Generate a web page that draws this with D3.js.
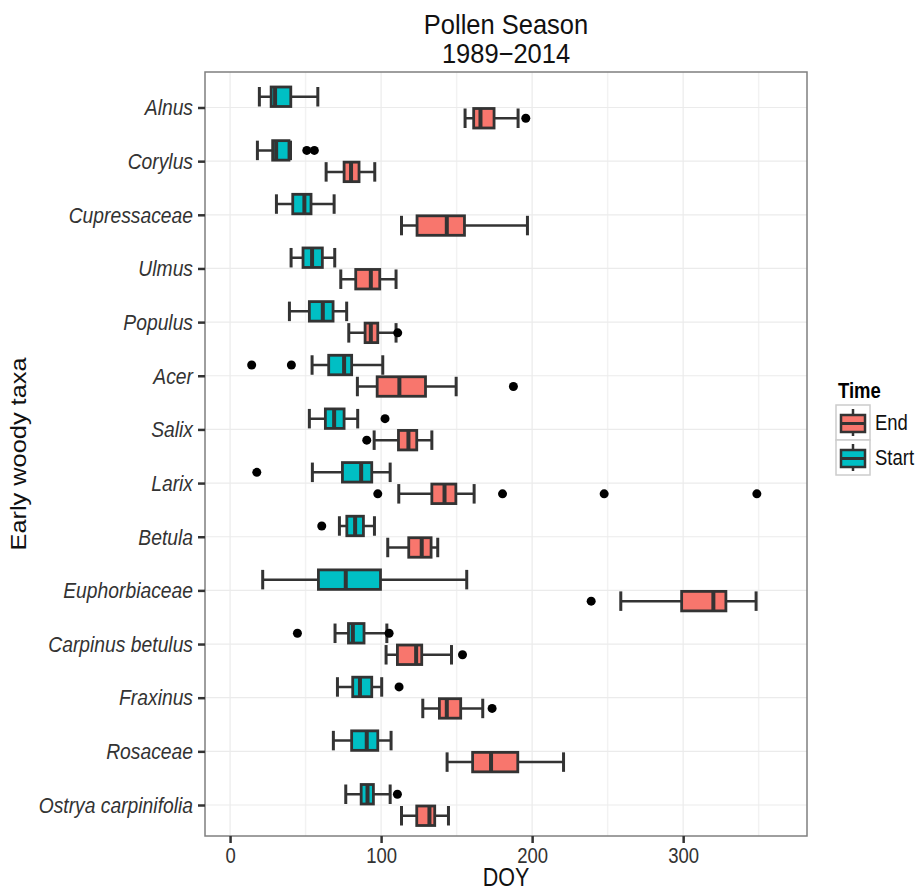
<!DOCTYPE html>
<html>
<head>
<meta charset="utf-8">
<script src="https://cdn.jsdelivr.net/npm/d3@7"></script>
<style>
  body { margin: 0; background: #fff; }
  svg { font-family: 'Liberation Sans', Arial, sans-serif; }
</style>
</head>
<body>
<div id="chart"></div>
<script>
const taxa = ['Alnus', 'Corylus', 'Cupressaceae', 'Ulmus', 'Populus', 'Acer', 'Salix', 'Larix',
  'Betula', 'Euphorbiaceae', 'Carpinus betulus', 'Fraxinus', 'Rosaceae', 'Ostrya carpinifolia']
const series = ['End', 'Start']
const seriesColor = ['#F8766D', '#00BFC4']
const xTicks = [0, 100, 200, 300]
const xMinorTicks = [50, 150, 250, 350]

// Start of season (DOY): lower whisker, Q1, median, Q3, upper whisker
const startLow = [19.4, 18.1, 30.7, 40.4, 39.3, 54.3, 52.5, 54.5, 72.4, 21.6, 69.5, 71.1, 68.4, 76.6]
const startQ1 = [27.2, 28.2, 41.5, 48.3, 52.5, 65.3, 63.1, 74.4, 77.3, 58.5, 78.4, 81.2, 80.5, 86.8]
const startMed = [29.8, 30.5, 49.2, 54.3, 61.4, 75.5, 68.9, 86.8, 82.8, 76.6, 81.3, 86.0, 90.5, 91.0]
const startQ3 = [40.2, 39.0, 53.6, 61.1, 68.2, 80.5, 75.5, 93.8, 88.3, 99.6, 88.7, 93.8, 97.8, 94.9]
const startHigh = [58.1, 40.0, 68.9, 69.3, 77.2, 101.1, 84.5, 106.0, 95.6, 156.7, 103.8, 100.4, 106.6, 106.0]
const startOut = [[], [50.8, 55.8], [], [], [], [14.3, 40.6], [102.6], [17.7], [60.7], [], [44.6, 105.3], [111.9], [], [110.8]]

// End of season (DOY)
const endLow = [155.6, 63.6, 113.5, 73.3, 78.6, 84.3, 95.4, 111.7, 104.4, 258.7, 103.3, 127.6, 143.7, 113.5]
const endQ1 = [161.3, 75.5, 123.8, 83.2, 89.4, 97.4, 111.5, 133.6, 118.3, 299.0, 110.8, 138.6, 160.6, 123.6]
const endMed = [165.8, 80.1, 143.5, 93.2, 93.2, 112.1, 118.1, 142.0, 126.9, 320.0, 123.2, 143.5, 172.8, 132.0]
const endQ3 = [174.8, 85.4, 155.2, 99.1, 97.8, 129.4, 123.6, 149.5, 133.1, 328.3, 126.9, 152.7, 190.5, 135.5]
const endHigh = [190.7, 95.8, 196.9, 109.9, 109.9, 149.7, 133.6, 161.6, 137.5, 348.3, 146.6, 167.3, 220.8, 144.6]
const endOut = [[195.8], [], [], [], [111.0], [187.6], [90.5], [97.8, 180.4, 247.7, 348.8], [], [239.1], [153.9], [173.5], [], []]

const width = 919, height = 891
const panel = {left: 205, right: 807, top: 72, bottom: 836}
const ink = '#333333'
const stretch = 1.18 // the reference text is a little taller than wide

const boxes = []
taxa.forEach((t, i) => {
  boxes.push({taxon: t, time: 'End', low: endLow[i], q1: endQ1[i], med: endMed[i], q3: endQ3[i], high: endHigh[i], out: endOut[i]})
  boxes.push({taxon: t, time: 'Start', low: startLow[i], q1: startQ1[i], med: startMed[i], q3: startQ3[i], high: startHigh[i], out: startOut[i]})
})

const color = d3.scaleOrdinal().domain(series).range(seriesColor)
const x = d3.scaleLinear().domain([-16.6, 382]).range([panel.left, panel.right])
const y = d3.scalePoint().domain(taxa).range([107.5, 805])
const dodge = d3.scaleBand().domain(['Start', 'End']).range([-21.5, 21.5])

const svg = d3.select('#chart').append('svg')
  .attr('width', width)
  .attr('height', height)

svg.append('rect').attr('width', width).attr('height', height).attr('fill', '#fff')

// grid
const grid = svg.append('g')
grid.selectAll('line.minor')
  .data(xMinorTicks)
  .enter()
  .append('line')
  .attr('x1', d => x(d)).attr('x2', d => x(d))
  .attr('y1', panel.top).attr('y2', panel.bottom)
  .attr('stroke', '#f2f2f2').attr('stroke-width', 1.5)
grid.selectAll('line.major')
  .data(xTicks)
  .enter()
  .append('line')
  .attr('x1', d => x(d)).attr('x2', d => x(d))
  .attr('y1', panel.top).attr('y2', panel.bottom)
  .attr('stroke', '#ebebeb').attr('stroke-width', 1.2)
grid.selectAll('line.h')
  .data(taxa)
  .enter()
  .append('line')
  .attr('x1', panel.left).attr('x2', panel.right)
  .attr('y1', d => y(d)).attr('y2', d => y(d))
  .attr('stroke', '#ebebeb').attr('stroke-width', 1.2)

// boxplots
const cy = d => y(d.taxon) + dodge(d.time) + dodge.bandwidth() / 2
const half = dodge.bandwidth() / 2

const g = svg.append('g').selectAll('g')
  .data(boxes)
  .enter()
  .append('g')

g.append('line')
  .attr('x1', d => x(d.low)).attr('x2', d => x(d.high))
  .attr('y1', cy).attr('y2', cy)
  .attr('stroke', ink).attr('stroke-width', 2.5)

g.selectAll('line.cap')
  .data(d => [d.low, d.high].map(v => ({v, c: cy(d)})))
  .enter()
  .append('line')
  .attr('x1', d => x(d.v)).attr('x2', d => x(d.v))
  .attr('y1', d => d.c - half + 1).attr('y2', d => d.c + half - 1)
  .attr('stroke', ink).attr('stroke-width', 3)

g.append('rect')
  .attr('x', d => x(d.q1))
  .attr('width', d => x(d.q3) - x(d.q1))
  .attr('y', d => cy(d) - half + 1)
  .attr('height', half * 2 - 2)
  .attr('fill', d => color(d.time))
  .attr('stroke', ink).attr('stroke-width', 2.8)

g.append('line')
  .attr('x1', d => x(d.med)).attr('x2', d => x(d.med))
  .attr('y1', d => cy(d) - half + 1).attr('y2', d => cy(d) + half - 1)
  .attr('stroke', ink).attr('stroke-width', 4)

g.selectAll('circle')
  .data(d => d.out.map(v => ({v, c: cy(d)})))
  .enter()
  .append('circle')
  .attr('cx', d => x(d.v))
  .attr('cy', d => d.c)
  .attr('r', 4.5)
  .attr('fill', '#000')

// panel border
svg.append('rect')
  .attr('x', panel.left).attr('y', panel.top)
  .attr('width', panel.right - panel.left).attr('height', panel.bottom - panel.top)
  .attr('fill', 'none').attr('stroke', '#7f7f7f').attr('stroke-width', 1.5)

// axes
const xAxis = d3.axisBottom(x).tickValues(xTicks).tickSize(7).tickPadding(3)
const xg = svg.append('g').attr('transform', `translate(0,${panel.bottom})`).call(xAxis)
const yAxis = d3.axisLeft(y).tickSize(7).tickPadding(5)
const yg = svg.append('g').attr('transform', `translate(${panel.left},0)`).call(yAxis)

;[xg, yg].forEach(a => {
  a.select('.domain').remove()
  a.selectAll('.tick line').attr('stroke', ink).attr('stroke-width', 2.5)
  a.selectAll('.tick text')
    .attr('fill', '#333')
    .attr('font-family', null)
    .attr('transform', `scale(1,${stretch})`)
    .style('font-size', '18.5px')
})
yg.selectAll('.tick text').style('font-size', '19.3px').style('font-style', 'italic')

// titles
function label(txt, tx, ty, size, s, rot) {
  const t = rot ? `translate(${tx},${ty}) rotate(-90) scale(${s},1)` : `translate(${tx},${ty}) scale(1,${s})`
  return svg.append('text')
    .attr('transform', t)
    .attr('text-anchor', 'middle')
    .style('font-size', size + 'px')
    .attr('fill', '#111')
    .text(txt)
}

const cx = (panel.left + panel.right) / 2
label('Pollen Season', cx, 34, 25.5, 1.08)
label('1989\u22122014', cx, 63, 25.5, 1.08)
label('DOY', cx, 886, 21.5, stretch)
label('Early woody taxa', 26, (panel.top + panel.bottom) / 2, 21.5, stretch, true)

// legend
const legend = svg.append('g').attr('transform', 'translate(836,380)')
legend.append('text')
  .attr('transform', `translate(2,18) scale(1,${stretch})`)
  .style('font-size', '18.5px').style('font-weight', 'bold')
  .text('Time')

const key = legend.selectAll('g.key')
  .data(series)
  .enter()
  .append('g')
  .attr('transform', (d, i) => `translate(0,${25 + i * 35})`)

key.append('rect')
  .attr('width', 34).attr('height', 35)
  .attr('fill', '#fff').attr('stroke', '#cccccc').attr('stroke-width', 1.5)
key.append('line')
  .attr('x1', 17).attr('x2', 17).attr('y1', 4).attr('y2', 31)
  .attr('stroke', ink).attr('stroke-width', 2.5)
key.append('rect')
  .attr('x', 5).attr('y', 10).attr('width', 24).attr('height', 17)
  .attr('fill', d => color(d))
  .attr('stroke', ink).attr('stroke-width', 2.5)
key.append('line')
  .attr('x1', 5).attr('x2', 29).attr('y1', 18.5).attr('y2', 18.5)
  .attr('stroke', ink).attr('stroke-width', 3)
key.append('text')
  .attr('transform', `translate(39,25) scale(1,${stretch})`)
  .style('font-size', '18.5px')
  .attr('fill', '#111')
  .text(d => d)
</script>
</body>
</html>
